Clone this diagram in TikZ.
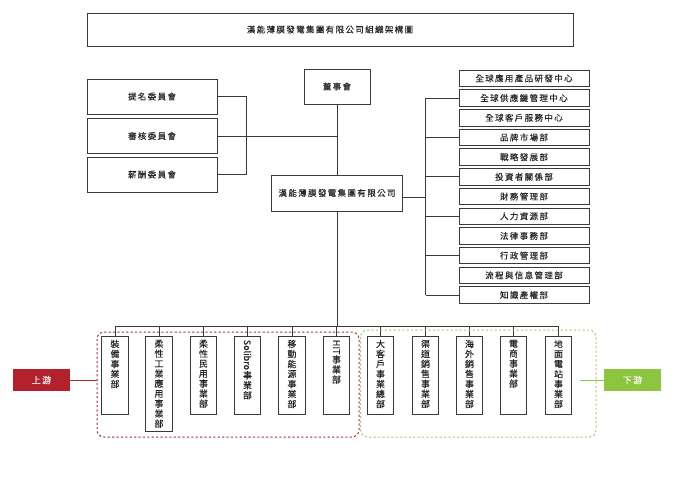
\documentclass[tikz,border=0pt]{standalone}
\usepackage{fontspec}
\usepackage{graphicx}
\setmainfont[LetterSpace=16,FakeBold=0.15]{Noto Sans CJK TC}
\newfontfamily\vfont[FakeBold=0.15]{Noto Sans CJK TC}
\definecolor{ln}{HTML}{3A3A3A}
\definecolor{upred}{HTML}{B3222C}
\definecolor{dngreen}{HTML}{8CC63F}
\definecolor{dashred}{HTML}{A8323A}
\definecolor{dashgreen}{HTML}{A9CC72}
\begin{document}
\begin{tikzpicture}[x=1pt,y=-1pt,
  box/.style={draw=ln,line width=0.8pt,rectangle,inner sep=0pt,font=\fontsize{8.5}{10}\selectfont,text=black!85},
  rbox/.style={box,minimum width=130pt,minimum height=16.5pt},
  vbox/.style={draw=ln,line width=0.8pt,rectangle,inner sep=0pt,minimum width=26.5pt},
  vtxt/.style={anchor=north,inner sep=0pt,align=center,font=\vfont\fontsize{9}{10}\selectfont,text=black!85},
  conn/.style={draw=ln,line width=0.8pt},
  tag/.style={rectangle,inner sep=0pt,minimum width=57pt,minimum height=22pt,text=white,font=\fontsize{9}{10}\selectfont}]
\useasboundingbox (0,0) rectangle (691,480);
% title
\node[box,minimum width=486pt,minimum height=33pt] (title) at (330,29.5) {漢能薄膜發電集團有限公司組織架構圖};
% committees
\node[box,minimum width=130pt,minimum height=35pt] (c1) at (152,96.5) {提名委員會};
\node[box,minimum width=130pt,minimum height=35pt] (c2) at (152,136) {審核委員會};
\node[box,minimum width=130pt,minimum height=35pt] (c3) at (152,174.5) {薪酬委員會};
% board and company
\node[box,minimum width=66pt,minimum height=35pt] (board) at (337,86.5) {董事會};
\node[box,minimum width=131pt,minimum height=36pt] (co) at (337,193) {漢能薄膜發電集團有限公司};
% right boxes
\foreach \t [count=\i] in {全球應用產品研發中心,全球供應鏈管理中心,全球客戶服務中心,品牌市場部,戰略發展部,投資者關係部,財務管理部,人力資源部,法律事務部,行政管理部,流程與信息管理部,知識產權部}
  \node[rbox] (r\i) at (524,{78.3+19.7*(\i-1)}) {\t};
% connectors top part
\coordinate (brk) at (246,0);
\coordinate (rbar) at (425.5,0);
\draw[conn] (board.south) -- (co.north);
\draw[conn] (c1.east) -| (brk |- c3.east) -- (c3.east);
\draw[conn] (c2.east) -- (c2.east -| board.south);
\draw[conn] (co.east |- 0,197) -- (rbar |- 0,197);
\draw[conn] (rbar |- r2.west) -- (rbar |- r12.west);
\foreach \i in {2,4,6,8,10,12}
  \draw[conn] (rbar |- r\i.west) -- (r\i.west);
% bottom units
\node[vbox,minimum height=78pt] (u1) at (115,375) {};
\node[vbox,minimum height=95pt] (u2) at (159,383.5) {};
\node[vbox,minimum height=78pt] (u3) at (203.5,375) {};
\node[vbox,minimum height=78pt] (u4) at (247.5,375) {};
\node[vbox,minimum height=78pt] (u5) at (292,375) {};
\node[vbox,minimum height=78pt] (u6) at (336.5,375) {};
\node[vbox,minimum height=78pt] (d1) at (380.5,375) {};
\node[vbox,minimum height=78pt] (d2) at (425.5,375) {};
\node[vbox,minimum height=78pt] (d3) at (469.5,375) {};
\node[vbox,minimum height=78pt] (d4) at (513.5,375) {};
\node[vbox,minimum height=78pt] (d5) at (558.5,375) {};
\node[vtxt] (u1t) at ([yshift=-4pt]u1.north) {裝\\備\\事\\業\\部};
\node[vtxt] (u2t) at ([yshift=-4pt]u2.north) {柔\\性\\工\\業\\應\\用\\事\\業\\部};
\node[vtxt] (u3t) at ([yshift=-4pt]u3.north) {柔\\性\\民\\用\\事\\業\\部};
\node[vtxt] (u4t) at ([yshift=-4pt]u4.north) {\rotatebox{-90}{Solibro}\\事\\業\\部};
\node[vtxt] (u5t) at ([yshift=-4pt]u5.north) {移\\動\\能\\源\\事\\業\\部};
\node[vtxt] (u6t) at ([yshift=-4pt]u6.north) {\rotatebox{-90}{HIT}\\事\\業\\部};
\node[vtxt] (d1t) at ([yshift=-4pt]d1.north) {大\\客\\戶\\事\\業\\總\\部};
\node[vtxt] (d2t) at ([yshift=-4pt]d2.north) {渠\\道\\銷\\售\\事\\業\\部};
\node[vtxt] (d3t) at ([yshift=-4pt]d3.north) {海\\外\\銷\\售\\事\\業\\部};
\node[vtxt] (d4t) at ([yshift=-4pt]d4.north) {電\\商\\事\\業\\部};
\node[vtxt] (d5t) at ([yshift=-4pt]d5.north) {地\\面\\電\\站\\事\\業\\部};
% bus
\coordinate (bus) at (0,326);
\draw[conn] (co.south) -- (co.south |- bus);
\draw[conn] (u1.north |- bus) -- (d5.north |- bus);
\foreach \n in {u1,u2,u3,u4,u5,u6,d1,d2,d3,d4,d5}
  \draw[conn] (\n.north |- bus) -- (\n.north);
% dashed groups
\draw[dashred,line width=1pt,dash pattern=on 2.2pt off 2.2pt,rounded corners=7pt] (97,332) rectangle (359,437);
\draw[dashgreen,line width=1pt,dash pattern=on 2.2pt off 2.2pt,rounded corners=7pt] (360.5,330) rectangle (596,437);
% tags
\node[tag,fill=upred] (up) at (41.5,380) {上游};
\node[tag,fill=dngreen] (down) at (632.5,380) {下游};
\coordinate (upend) at (97,380);
\coordinate (dnstart) at (580,380);
\draw[upred,line width=1pt] (up.east) -- (upend);
\draw[dngreen,line width=1pt] (dnstart) -- (down.west);
\end{tikzpicture}
\end{document}
